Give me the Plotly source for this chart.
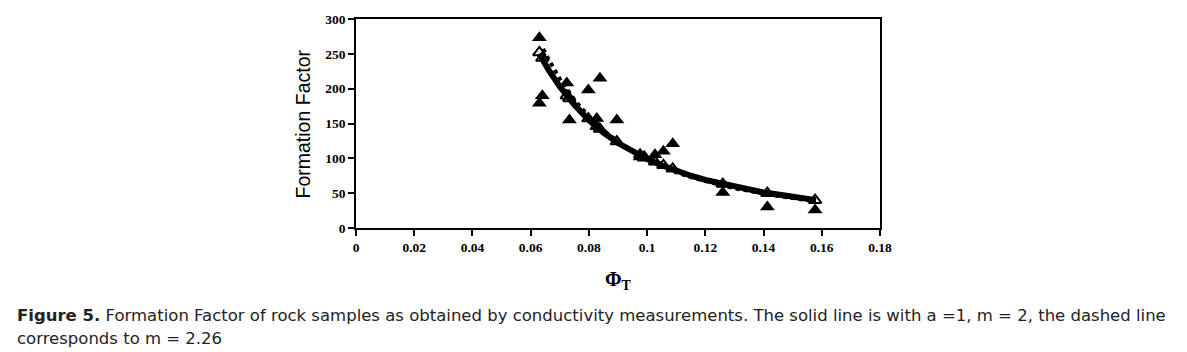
import plotly.graph_objects as go

# Measured formation factor (filled triangles)
meas_phi = [0.0630, 0.0630, 0.0640, 0.0724, 0.0733, 0.0798, 0.0827, 0.0838, 0.0896,
            0.0976, 0.0990, 0.1027, 0.1056, 0.1088, 0.1260, 0.1413, 0.1577]
meas_F = [273, 179, 190, 208, 155, 198, 157, 215, 155,
          102, 100, 105, 110, 121, 51, 30, 26]

# Model values at the sample porosities (open triangles)
model_phi = [0.0630, 0.0640, 0.0724, 0.0733, 0.0798, 0.0827, 0.0838, 0.0896,
             0.0976, 0.0990, 0.1027, 0.1056, 0.1088, 0.1260, 0.1413, 0.1577]
model_F = [252, 244, 190, 186, 157, 146, 142, 124,
           105, 102, 95, 90, 85, 63, 50, 40]

# Solid line (a = 1, m = 2)
solid_phi = [0.063, 0.066, 0.070, 0.075, 0.080, 0.085, 0.090, 0.095, 0.100, 0.105,
             0.110, 0.115, 0.120, 0.125, 0.130, 0.135, 0.140, 0.145, 0.150, 0.155, 0.158]
solid_F = [250, 228, 203, 177, 155, 137, 122, 110, 99, 90,
           82, 75, 69, 64, 59, 55, 51, 48, 45, 42, 40]

# Dashed line (m = 2.26)
dash_phi = [0.0643, 0.066, 0.070, 0.075, 0.080, 0.085, 0.090, 0.095, 0.100, 0.105,
            0.110, 0.115, 0.120, 0.125, 0.130, 0.135, 0.140, 0.145, 0.150, 0.155, 0.158]
dash_F = [257, 243, 214, 184, 160, 140, 124, 110, 99, 89,
          80, 73, 67, 62, 57, 53, 49, 46, 43, 40, 38]

x_ticks = [0, 0.02, 0.04, 0.06, 0.08, 0.1, 0.12, 0.14, 0.16, 0.18]
x_tick_text = ["0", "0.02", "0.04", "0.06", "0.08", "0.1", "0.12", "0.14", "0.16", "0.18"]
y_ticks = [0, 50, 100, 150, 200, 250, 300]

fig = go.Figure()
fig.add_trace(go.Scatter(x=dash_phi, y=dash_F, mode="lines",
                         line=dict(color="black", width=4, dash="dot"), showlegend=False))
fig.add_trace(go.Scatter(x=solid_phi, y=solid_F, mode="lines",
                         line=dict(color="black", width=6), showlegend=False))
fig.add_trace(go.Scatter(x=model_phi, y=model_F, mode="markers",
                         marker=dict(symbol="triangle-up-open", size=11, color="black",
                                     line=dict(width=2, color="black")), showlegend=False))
fig.add_trace(go.Scatter(x=meas_phi, y=meas_F, mode="markers",
                         marker=dict(symbol="triangle-up", size=13, color="black"),
                         showlegend=False))

tick_font = dict(family="Liberation Serif", size=13.5, color="black")
fig.update_xaxes(range=[0, 0.18], tickvals=x_ticks, ticktext=["<b>%s</b>" % t for t in x_tick_text],
                 showgrid=False, zeroline=False, showline=True, linecolor="black", linewidth=1.5,
                 mirror=True, ticks="outside", ticklen=6, tickwidth=1.5, tickcolor="black",
                 tickfont=tick_font)
fig.update_yaxes(range=[0, 300], tickvals=y_ticks, ticktext=["<b>%d</b>" % t for t in y_ticks],
                 showgrid=False, zeroline=False, showline=True, linecolor="black", linewidth=1.5,
                 mirror=True, ticks="outside", ticklen=6, tickwidth=1.5, tickcolor="black",
                 tickfont=tick_font)

L, R, T, B = 356, 880, 14, 228
W, H = R - L, B - T

def px(x):
    return (x - L) / W

def py(y):
    return (B - y) / H

annotations = [
    dict(text="Formation Factor", x=px(303), y=py(122), xref="paper", yref="paper",
         textangle=-90, showarrow=False, xanchor="center", yanchor="middle",
         font=dict(family="Liberation Sans", size=19.5, color="black")),
    dict(text="<b>Φ<sub>T</sub></b>", x=px(618), y=py(282), xref="paper", yref="paper",
         showarrow=False, xanchor="center", yanchor="middle",
         font=dict(family="Liberation Serif", size=20, color="black")),
    dict(text="<b>Figure 5.</b> Formation Factor of rock samples as obtained by conductivity measurements. "
              "The solid line is with a =1, m = 2, the dashed line",
         x=px(15), y=py(318), xref="paper", yref="paper", showarrow=False,
         xanchor="left", yanchor="middle",
         font=dict(family="DejaVu Sans", size=16.5, color="#222")),
    dict(text="corresponds to m = 2.26",
         x=px(15), y=py(341), xref="paper", yref="paper", showarrow=False,
         xanchor="left", yanchor="middle",
         font=dict(family="DejaVu Sans", size=16.5, color="#222")),
]

fig.update_layout(width=1187, height=352,
                  margin=dict(l=L, r=1187 - R, t=T, b=352 - B, pad=0),
                  paper_bgcolor="white", plot_bgcolor="white",
                  annotations=annotations, showlegend=False)

fig.write_html("out.html")
